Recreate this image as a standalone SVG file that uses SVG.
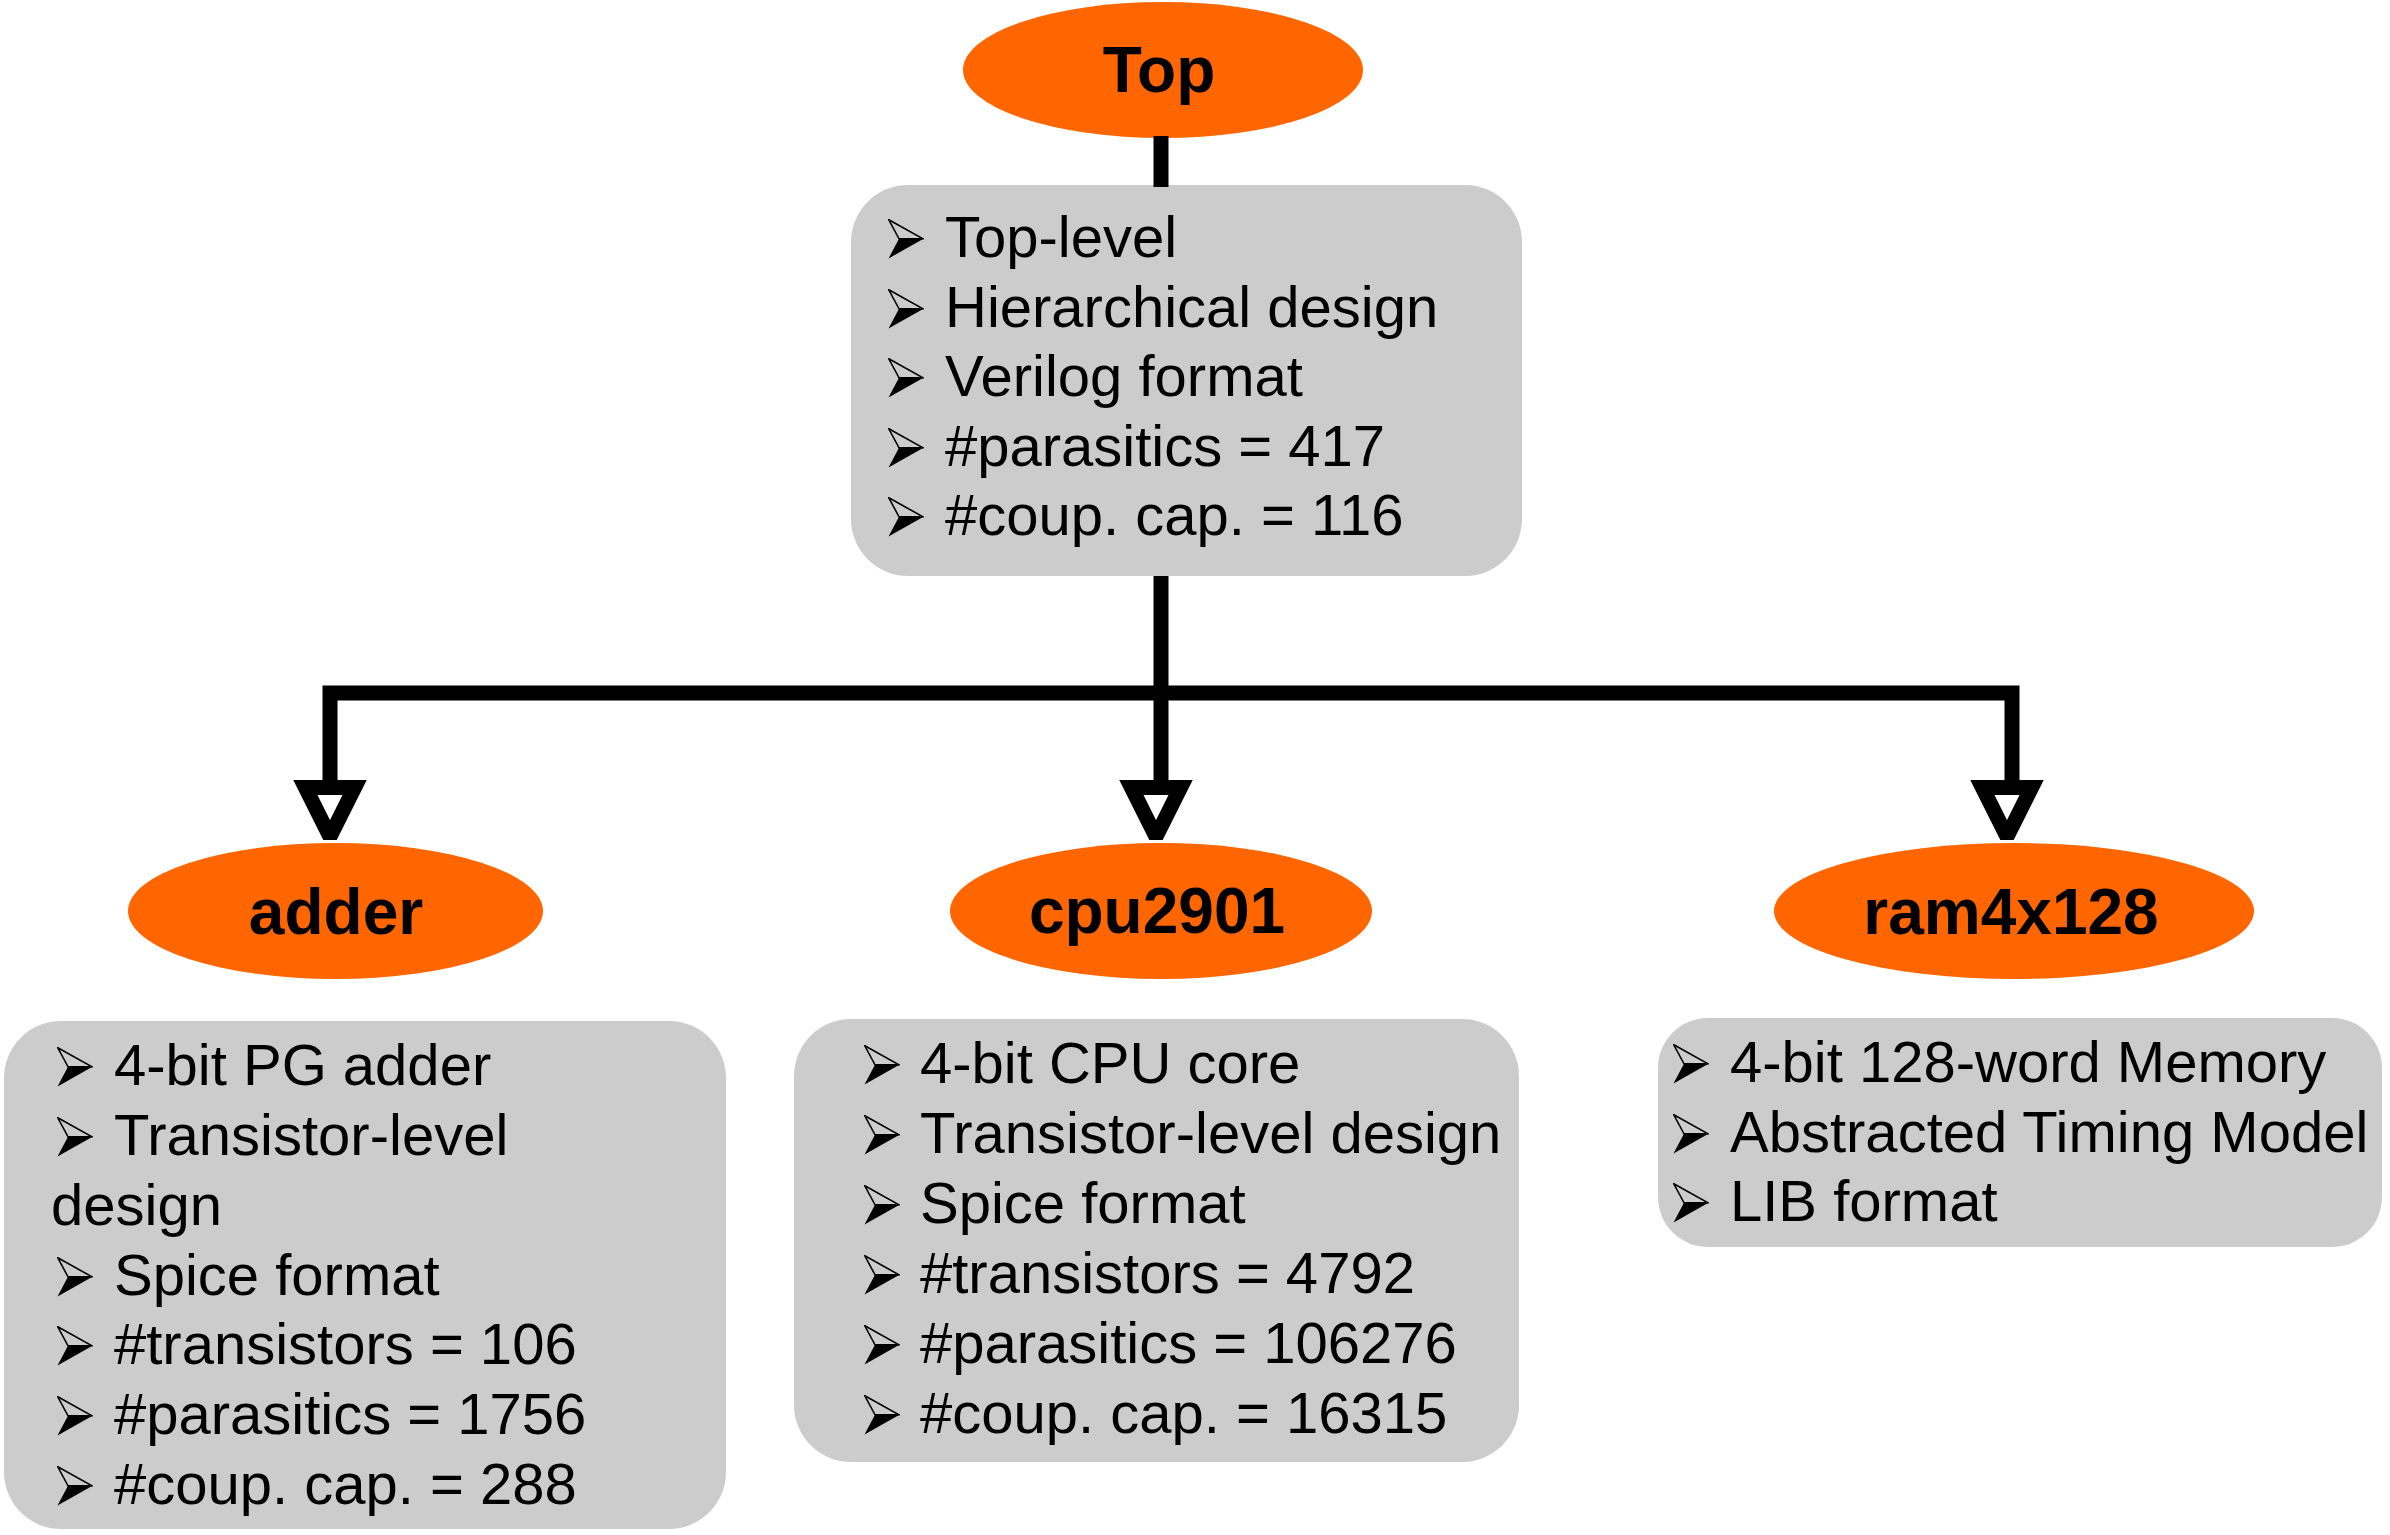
<svg xmlns="http://www.w3.org/2000/svg" xmlns:xlink="http://www.w3.org/1999/xlink" width="2390" height="1535" viewBox="0 0 2390 1535">
<style>
.ell{fill:#ff6600;}
.box{fill:#cccccc;}
.lbl{font-family:"Liberation Sans",Arial,sans-serif;font-weight:bold;font-size:64px;fill:#000;text-anchor:middle;}
.txt{font-family:"Liberation Sans",Arial,sans-serif;font-size:58px;fill:#000;}
.wire{fill:none;stroke:#000;stroke-width:15;stroke-linejoin:miter;stroke-linecap:butt;}
.head{fill:#fff;stroke:#000;stroke-width:15;stroke-linejoin:miter;stroke-miterlimit:2;}
</style>
<defs>
<symbol id="bul" viewBox="0 0 36 40">
<path d="M0.8,0.8 L35,19.8 L11,19.8 Z" fill="none" stroke="#000" stroke-width="1.6" stroke-linejoin="miter"/>
<path d="M11,19.8 L35.5,19.8 L0.5,39.5 Z" fill="#000"/>
</symbol>
</defs>
<rect width="2390" height="1535" fill="#fff"/>

<g id="node-top">
<ellipse class="ell" cx="1163" cy="70" rx="200" ry="68"/>
<text class="lbl" x="1159" y="92">Top</text>
</g>

<g id="node-top-info">
<rect class="box" x="851" y="185" width="671" height="391" rx="57" ry="57"/>
<use href="#bul" x="888" y="219" width="36" height="40"/>
<use href="#bul" x="888" y="289" width="36" height="40"/>
<use href="#bul" x="888" y="358" width="36" height="40"/>
<use href="#bul" x="888" y="428" width="36" height="40"/>
<use href="#bul" x="888" y="497" width="36" height="40"/>
<text class="txt" x="945" y="257">Top-level</text>
<text class="txt" x="945" y="327">Hierarchical design</text>
<text class="txt" x="945" y="396">Verilog format</text>
<text class="txt" x="945" y="466">#parasitics = 417</text>
<text class="txt" x="945" y="535">#coup. cap. = 116</text>
</g>

<g id="node-adder">
<ellipse class="ell" cx="335.5" cy="911" rx="207.5" ry="68"/>
<text class="lbl" x="336" y="934">adder</text>
</g>

<g id="node-adder-info">
<rect class="box" x="4" y="1021" width="722" height="508" rx="57" ry="57"/>
<use href="#bul" x="57" y="1047" width="36" height="40"/>
<use href="#bul" x="57" y="1117" width="36" height="40"/>
<use href="#bul" x="57" y="1257" width="36" height="40"/>
<use href="#bul" x="57" y="1326" width="36" height="40"/>
<use href="#bul" x="57" y="1396" width="36" height="40"/>
<use href="#bul" x="57" y="1466" width="36" height="40"/>
<text class="txt" x="114" y="1085">4-bit PG adder</text>
<text class="txt" x="114" y="1155">Transistor-level</text>
<text class="txt" x="51" y="1225">design</text>
<text class="txt" x="114" y="1295">Spice format</text>
<text class="txt" x="114" y="1364">#transistors = 106</text>
<text class="txt" x="114" y="1434">#parasitics = 1756</text>
<text class="txt" x="114" y="1504">#coup. cap. = 288</text>
</g>

<g id="node-cpu2901">
<ellipse class="ell" cx="1161" cy="911" rx="211" ry="68"/>
<text class="lbl" x="1157" y="933">cpu2901</text>
</g>

<g id="node-cpu2901-info">
<rect class="box" x="794" y="1019" width="725" height="443" rx="57" ry="57"/>
<use href="#bul" x="864" y="1045" width="36" height="40"/>
<use href="#bul" x="864" y="1115" width="36" height="40"/>
<use href="#bul" x="864" y="1185" width="36" height="40"/>
<use href="#bul" x="864" y="1255" width="36" height="40"/>
<use href="#bul" x="864" y="1325" width="36" height="40"/>
<use href="#bul" x="864" y="1395" width="36" height="40"/>
<text class="txt" x="920" y="1083">4-bit CPU core</text>
<text class="txt" x="920" y="1153">Transistor-level design</text>
<text class="txt" x="920" y="1223">Spice format</text>
<text class="txt" x="920" y="1293">#transistors = 4792</text>
<text class="txt" x="920" y="1363">#parasitics = 106276</text>
<text class="txt" x="920" y="1433">#coup. cap. = 16315</text>
</g>

<g id="node-ram4x128">
<ellipse class="ell" cx="2014" cy="911" rx="240" ry="68"/>
<text class="lbl" x="2011" y="934">ram4x128</text>
</g>

<g id="node-ram4x128-info">
<rect class="box" x="1658" y="1018" width="724" height="229" rx="50" ry="50"/>
<use href="#bul" x="1673" y="1044" width="36" height="40"/>
<use href="#bul" x="1673" y="1114" width="36" height="40"/>
<use href="#bul" x="1673" y="1183" width="36" height="40"/>
<text class="txt" x="1730" y="1082">4-bit 128-word Memory</text>
<text class="txt" x="1730" y="1152">Abstracted Timing Model</text>
<text class="txt" x="1730" y="1221">LIB format</text>
</g>

<g id="connectors">
<path class="wire" d="M1161,136 V187"/>
<path class="wire" d="M1161,576 V792"/>
<path class="wire" d="M330,792 V693 H2012 V792"/>
<polygon class="head" points="305.4,787.5 354.6,787.5 330,836.75"/>
<polygon class="head" points="1131.4,787.5 1180.6,787.5 1156,836.75"/>
<polygon class="head" points="1982.4,787.5 2031.6,787.5 2007,836.75"/>
</g>
</svg>
